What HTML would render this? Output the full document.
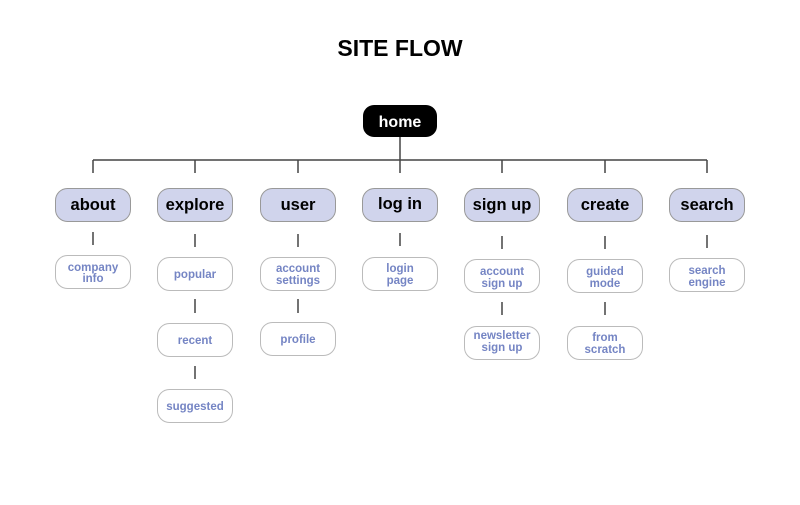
<!DOCTYPE html>
<html><head><style>
body{margin:0;background:#fff;width:800px;height:500px;overflow:hidden}
</style></head><body>
<svg width="800" height="500" xmlns="http://www.w3.org/2000/svg" font-family="Liberation Sans, Arial, sans-serif" font-weight="bold">
<text x="400" y="56" text-anchor="middle" font-size="23" fill="#000">SITE FLOW</text>
<rect x="363" y="105" width="74" height="32" rx="11" fill="#000"/>
<text x="400" y="127" text-anchor="middle" font-size="16" fill="#fff">home</text>
<g stroke="#444" stroke-width="1.5" fill="none">
<line x1="400" y1="137" x2="400" y2="160"/>
<line x1="93" y1="160" x2="707" y2="160"/>
<line x1="93" y1="160" x2="93" y2="173"/><line x1="195" y1="160" x2="195" y2="173"/><line x1="298" y1="160" x2="298" y2="173"/><line x1="400" y1="160" x2="400" y2="173"/><line x1="502" y1="160" x2="502" y2="173"/><line x1="605" y1="160" x2="605" y2="173"/><line x1="707" y1="160" x2="707" y2="173"/>
<line x1="93" y1="232" x2="93" y2="245"/><line x1="195" y1="234" x2="195" y2="247"/><line x1="298" y1="234" x2="298" y2="247"/><line x1="400" y1="233" x2="400" y2="246"/><line x1="502" y1="236" x2="502" y2="249"/><line x1="605" y1="236" x2="605" y2="249"/><line x1="707" y1="235" x2="707" y2="248"/>
<line x1="195" y1="299" x2="195" y2="313"/><line x1="195" y1="366" x2="195" y2="379"/>
<line x1="298" y1="299" x2="298" y2="313"/>
<line x1="502" y1="302" x2="502" y2="315"/><line x1="605" y1="302" x2="605" y2="315"/>
</g>
<g fill="#d0d4ec" stroke="#999" stroke-width="1">
<rect x="55.5" y="188.5" width="75" height="33" rx="12"/>
<rect x="157.5" y="188.5" width="75" height="33" rx="12"/>
<rect x="260.5" y="188.5" width="75" height="33" rx="12"/>
<rect x="362.5" y="188.5" width="75" height="33" rx="12"/>
<rect x="464.5" y="188.5" width="75" height="33" rx="12"/>
<rect x="567.5" y="188.5" width="75" height="33" rx="12"/>
<rect x="669.5" y="188.5" width="75" height="33" rx="12"/>
</g>
<g font-size="16.5" text-anchor="middle" fill="#000">
<text x="93" y="210">about</text><text x="195" y="210">explore</text><text x="298" y="210">user</text><text x="400" y="209">log in</text><text x="502" y="210">sign up</text><text x="605" y="210">create</text><text x="707" y="210">search</text>
</g>
<g fill="#fff" stroke="#bbb" stroke-width="1">
<rect x="55.5" y="255.5" width="75" height="33" rx="12"/>
<rect x="157.5" y="257.5" width="75" height="33" rx="12"/>
<rect x="157.5" y="323.5" width="75" height="33" rx="12"/>
<rect x="157.5" y="389.5" width="75" height="33" rx="12"/>
<rect x="260.5" y="257.5" width="75" height="33" rx="12"/>
<rect x="260.5" y="322.5" width="75" height="33" rx="12"/>
<rect x="362.5" y="257.5" width="75" height="33" rx="12"/>
<rect x="464.5" y="259.5" width="75" height="33" rx="12"/>
<rect x="464.5" y="326.5" width="75" height="33" rx="12"/>
<rect x="567.5" y="259.5" width="75" height="33" rx="12"/>
<rect x="567.5" y="326.5" width="75" height="33" rx="12"/>
<rect x="669.5" y="258.5" width="75" height="33" rx="12"/>
</g>
<g font-size="11.5" text-anchor="middle" fill="#7585c4">
<text x="93" y="271">company</text><text x="93" y="282">info</text>
<text x="195" y="278">popular</text>
<text x="195" y="344">recent</text>
<text x="195" y="410">suggested</text>
<text x="298" y="272">account</text><text x="298" y="284">settings</text>
<text x="298" y="343">profile</text>
<text x="400" y="272">login</text><text x="400" y="284">page</text>
<text x="502" y="275">account</text><text x="502" y="287">sign up</text>
<text x="502" y="339">newsletter</text><text x="502" y="351">sign up</text>
<text x="605" y="275">guided</text><text x="605" y="287">mode</text>
<text x="605" y="341">from</text><text x="605" y="353">scratch</text>
<text x="707" y="274">search</text><text x="707" y="286">engine</text>
</g>
</svg>
</body></html>
